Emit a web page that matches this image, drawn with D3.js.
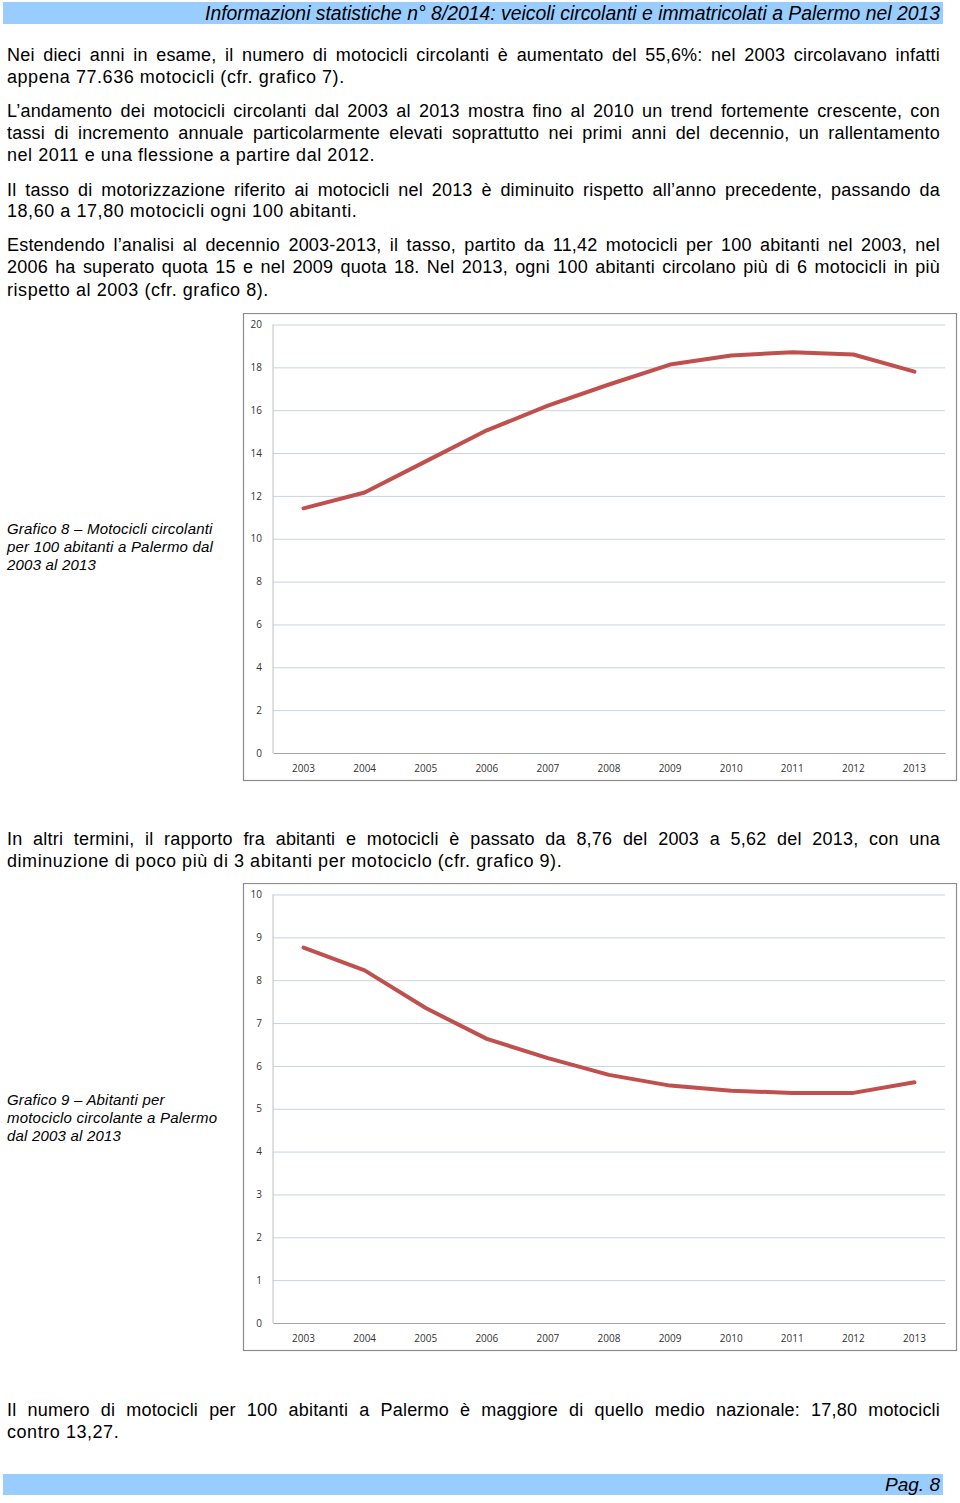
<!DOCTYPE html>
<html>
<head>
<meta charset="utf-8">
<script src="https://cdn.jsdelivr.net/npm/d3@7"></script>
<style>
  body { margin: 0; background: #fff; }
  #page { position: relative; width: 960px; height: 1503px; overflow: hidden; font-family: "Liberation Sans", Arial, sans-serif; }
  .ln { position: absolute; left: 7px; width: 933px; font-size: 18px; letter-spacing: 0.55px; line-height: 22px; color: #000; white-space: nowrap; }
  .ln.j { text-align: justify; text-align-last: justify; white-space: normal; letter-spacing: 0.2px; }
  .cap { position: absolute; left: 7px; font-size: 15px; letter-spacing: 0.2px; line-height: 18px; font-style: italic; color: #000; }
  svg { position: absolute; left: 0; }
</style>
</head>
<body>
<div id="page"></div>
<script>
// ---- data ----
const years = ['2003','2004','2005','2006','2007','2008','2009','2010','2011','2012','2013'];
const motoPer100 = [11.42, 12.16, 13.61, 15.06, 16.21, 17.20, 18.13, 18.55, 18.71, 18.60, 17.80];
const abitantiPerMoto = [8.76, 8.23, 7.35, 6.63, 6.18, 5.79, 5.54, 5.42, 5.37, 5.37, 5.62];
const ticksChart8 = [0, 2, 4, 6, 8, 10, 12, 14, 16, 18, 20];
const ticksChart9 = [0, 1, 2, 3, 4, 5, 6, 7, 8, 9, 10];

const headerText = 'Informazioni statistiche n° 8/2014: veicoli circolanti e immatricolati a Palermo nel 2013';
const footerText = 'Pag. 8';

// text lines: [centre y, text, justified?]
const textLines = [
  [54, 'Nei dieci anni in esame, il numero di motocicli circolanti è aumentato del 55,6%: nel 2003 circolavano infatti', true],
  [76, 'appena 77.636 motocicli (cfr. grafico 7).', false],
  [110, 'L’andamento dei motocicli circolanti dal 2003 al 2013 mostra fino al 2010 un trend fortemente crescente, con', true],
  [132, 'tassi di incremento annuale particolarmente elevati soprattutto nei primi anni del decennio, un rallentamento', true],
  [154, 'nel 2011 e una flessione a partire dal 2012.', false],
  [189, 'Il tasso di motorizzazione riferito ai motocicli nel 2013 è diminuito rispetto all’anno precedente, passando da', true],
  [210, '18,60 a 17,80 motocicli ogni 100 abitanti.', false],
  [244, 'Estendendo l’analisi al decennio 2003-2013, il tasso, partito da 11,42 motocicli per 100 abitanti nel 2003, nel', true],
  [266, '2006 ha superato quota 15 e nel 2009 quota 18. Nel 2013, ogni 100 abitanti circolano più di 6 motocicli in più', true],
  [289, 'rispetto al 2003 (cfr. grafico 8).', false],
  [838, 'In altri termini, il rapporto fra abitanti e motocicli è passato da 8,76 del 2003 a 5,62 del 2013, con una', true],
  [860, 'diminuzione di poco più di 3 abitanti per motociclo (cfr. grafico 9).', false],
  [1409, 'Il numero di motocicli per 100 abitanti a Palermo è maggiore di quello medio nazionale: 17,80 motocicli', true],
  [1431, 'contro 13,27.', false]
];

const captions = [
  [529, ['Grafico 8 – Motocicli circolanti', 'per 100 abitanti a Palermo dal', '2003 al 2013']],
  [1100, ['Grafico 9 – Abitanti per', 'motociclo circolante a Palermo', 'dal 2003 al 2013']]
];

const page = d3.select('#page');

// header / footer bars
const hdr = page.append('svg').attr('width', 960).attr('height', 30).style('top', '0px');
hdr.append('rect').attr('x', 3).attr('y', 2).attr('width', 940).attr('height', 22).attr('fill', '#99ccff');
hdr.append('text').attr('x', 940).attr('y', 20).attr('text-anchor', 'end')
  .attr('font-family', '"Liberation Sans Narrow", "Liberation Sans", Arial, sans-serif')
  .attr('font-style', 'italic').attr('font-size', 19.5)
  .attr('textLength', 735).attr('lengthAdjust', 'spacingAndGlyphs')
  .text(headerText);

const ftr = page.append('svg').attr('width', 960).attr('height', 30).style('top', '1470px');
ftr.append('rect').attr('x', 3).attr('y', 4).attr('width', 940).attr('height', 21).attr('fill', '#99ccff');
ftr.append('text').attr('x', 940).attr('y', 21).attr('text-anchor', 'end')
  .attr('font-family', '"Liberation Sans Narrow", "Liberation Sans", Arial, sans-serif')
  .attr('font-style', 'italic').attr('font-size', 19)
  .attr('textLength', 55).attr('lengthAdjust', 'spacingAndGlyphs')
  .text(footerText);

// body text
textLines.forEach(function(d){
  page.append('div')
    .attr('class', d[2] ? 'ln j' : 'ln')
    .style('top', (d[0] - 10) + 'px')
    .text(d[1]);
});

captions.forEach(function(c){
  page.append('div')
    .attr('class', 'cap')
    .style('top', (c[0] - 9) + 'px')
    .html(c[1].join('<br>'));
});

// line chart
function drawChart(top, values, ticks){
  const frameH = 467;
  const svg = page.append('svg')
    .attr('width', 960).attr('height', frameH + 4)
    .style('top', top + 'px');

  const plot = {left: 273, right: 945, top: 11.5, bottom: 440};

  svg.append('rect')
    .attr('x', 243.5).attr('y', 0.5)
    .attr('width', 713).attr('height', frameH)
    .attr('fill', '#fff').attr('stroke', '#8c8c8c').attr('stroke-width', 1.2);

  const x = d3.scaleBand().domain(years).range([plot.left, plot.right]);
  const y = d3.scaleLinear().domain([0, d3.max(ticks)]).range([plot.bottom, plot.top]);

  // gridlines
  svg.append('g')
    .attr('transform', 'translate(' + plot.left + ',0)')
    .call(d3.axisLeft(y).tickValues(ticks.slice(1)).tickSize(-(plot.right - plot.left)).tickFormat(''))
    .call(g => g.select('.domain').remove())
    .call(g => g.selectAll('line').attr('stroke', '#c8d3e2').attr('stroke-width', 1));

  // y axis
  const yAxis = svg.append('g')
    .attr('transform', 'translate(' + plot.left + ',0)')
    .call(d3.axisLeft(y).tickValues(ticks).tickSize(5).tickPadding(6))
  yAxis.select('.domain').attr('stroke', '#c0c0c0').attr('d', 'M0,' + plot.top + 'V' + plot.bottom);
  yAxis.selectAll('.tick line').attr('stroke', 'none');
  yAxis.selectAll('text')
    .attr('font-family', '"Open Sans", "DejaVu Sans", sans-serif')
    .attr('font-size', 10).attr('fill', '#333');

  // x axis
  const xAxis = svg.append('g')
    .attr('transform', 'translate(0,' + plot.bottom + ')')
    .call(d3.axisBottom(x).tickSize(0).tickPadding(12));
  xAxis.select('.domain').attr('stroke', '#a6a6a6');
  xAxis.selectAll('text')
    .attr('font-family', '"Open Sans", "DejaVu Sans", sans-serif')
    .attr('font-size', 10).attr('fill', '#333');

  const line = d3.line()
    .x((d, i) => x(years[i]) + x.bandwidth() / 2)
    .y(d => y(d));

  svg.append('path')
    .datum(values)
    .attr('d', line)
    .attr('fill', 'none')
    .attr('stroke', '#c0504d')
    .attr('stroke-width', 4)
    .attr('stroke-linejoin', 'round')
    .attr('stroke-linecap', 'round');
}

drawChart(313, motoPer100, ticksChart8);
drawChart(883, abitantiPerMoto, ticksChart9);
</script>
</body>
</html>
